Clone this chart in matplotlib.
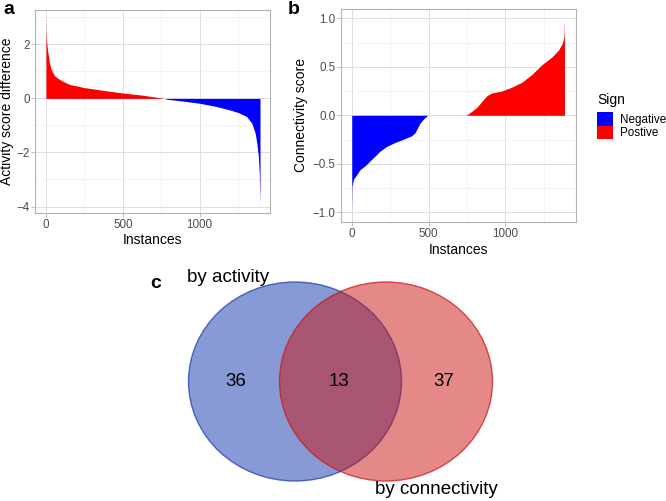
import matplotlib
matplotlib.use("Agg")
import matplotlib.pyplot as plt
from matplotlib.patches import Patch, Ellipse

plt.rcParams['font.family'] = ['Liberation Sans', 'DejaVu Sans']

# panel a: activity score difference, sorted (rank -> value)
a_pos_rank = [0, 1, 4, 11, 22, 33, 54, 76, 108, 152, 250, 369, 500, 629, 750, 770]
a_pos_val = [2.95, 2.5, 2.12, 1.76, 1.33, 1.09, 0.85, 0.75, 0.64, 0.52, 0.40, 0.30, 0.20, 0.12, 0.02, 0.0]
a_neg_rank = [770, 786, 894, 1000, 1111, 1198, 1250, 1306, 1339, 1361, 1372, 1382, 1388, 1393]
a_neg_val = [0.0, -0.03, -0.10, -0.18, -0.30, -0.43, -0.52, -0.67, -0.91, -1.27, -1.64, -2.12, -2.73, -3.88]

# panel b: connectivity score, sorted
b_neg_rank = [0, 2, 11, 33, 54, 87, 119, 152, 184, 228, 282, 347, 391, 412, 428, 445, 466, 494]
b_neg_val = [-1.0, -0.73, -0.66, -0.61, -0.56, -0.52, -0.47, -0.42, -0.37, -0.32, -0.28, -0.24,
             -0.21, -0.18, -0.13, -0.08, -0.04, 0.0]
b_pos_rank = [745, 781, 813, 846, 878, 911, 976, 1042, 1107, 1172, 1237, 1302, 1345, 1371, 1382, 1384, 1385]
b_pos_val = [0.0, 0.04, 0.08, 0.14, 0.20, 0.23, 0.25, 0.29, 0.34, 0.42, 0.52, 0.60, 0.67, 0.74, 0.81, 0.95, 0.95]

sign_labels = ["Negative", "Postive"]
sign_colors = ["#0000FF", "#FF0000"]

# panel c: venn counts
venn_counts = [36, 13, 37]
venn_names = ["by activity", "by connectivity"]

W, H = 666, 501
fig = plt.figure(figsize=(W / 100, H / 100), dpi=100)

def px_axes(left, top, right, bottom):
    return fig.add_axes([left / W, 1 - bottom / H, (right - left) / W, (bottom - top) / H])

def style(ax, xlim, ylim, yticks, yminor):
    ax.set_xlim(*xlim)
    ax.set_ylim(*ylim)
    ax.set_xticks([0, 500, 1000])
    ax.set_xticks([250, 750, 1250], minor=True)
    ax.set_yticks(yticks)
    ax.set_yticks(yminor, minor=True)
    ax.grid(True, which='major', color='#DEDEDE', lw=0.7)
    ax.grid(True, which='minor', color='#EBEBEB', lw=0.4)
    ax.set_axisbelow(True)
    for s in ax.spines.values():
        s.set_color('#B3B3B3')
        s.set_linewidth(0.8)
    ax.tick_params(which='major', length=2.75, width=0.6, color='#B3B3B3',
                   labelsize=8.4, labelcolor='#4D4D4D', pad=1.3)
    ax.tick_params(which='minor', length=0)

# a
ax_a = px_axes(35.2, 9.5, 270.3, 213)
ax_a.fill_between(a_pos_rank, a_pos_val, 0, color=sign_colors[1], lw=0)
ax_a.fill_between(a_neg_rank, a_neg_val, 0, color=sign_colors[0], lw=0)
style(ax_a, (-70, 1460), (-4.24, 3.29), [-4, -2, 0, 2], [-3, -1, 1, 3])
ax_a.set_yticklabels(['\u22124', '\u22122', '0', '2'])
ax_a.set_ylabel("Activity score difference", fontsize=10, va='center')
ax_a.yaxis.set_label_coords(-0.118, 0.5)
ax_a.set_xlabel("Instances", fontsize=10, va='center')
ax_a.xaxis.set_label_coords(0.5, -0.133)

# b
ax_b = px_axes(341, 8.6, 576, 222)
ax_b.fill_between(b_neg_rank, b_neg_val, 0, color=sign_colors[0], lw=0)
ax_b.fill_between(b_pos_rank, b_pos_val, 0, color=sign_colors[1], lw=0)
style(ax_b, (-70, 1460), (-1.1, 1.1), [-1, -0.5, 0, 0.5, 1], [-0.75, -0.25, 0.25, 0.75])
ax_b.set_yticklabels(['\u22121.0', '\u22120.5', '0.0', '0.5', '1.0'])
ax_b.set_ylabel("Connectivity score", fontsize=10, va='center')
ax_b.yaxis.set_label_coords(-0.171, 0.5)
ax_b.set_xlabel("Instances", fontsize=10, va='center')
ax_b.xaxis.set_label_coords(0.5, -0.131)

handles = [Patch(facecolor=c, edgecolor='none') for c in sign_colors]
leg = fig.legend(handles, sign_labels, title="Sign", loc='center left',
                 bbox_to_anchor=(597 / W, 1 - 116 / H), frameon=False,
                 fontsize=8.4, title_fontsize=10, handlelength=1.37, handleheight=1.4,
                 labelspacing=0, handletextpad=0.6, borderpad=0, borderaxespad=0,
                 alignment='left')
leg._legend_box.sep = 4

# c: venn diagram in pixel coordinates
ax_v = fig.add_axes([0, 0, 1, 1])
ax_v.set_xlim(0, W)
ax_v.set_ylim(H, 0)
ax_v.axis('off')
blue = (19 / 255, 55 / 255, 173 / 255)
red = (203 / 255, 19 / 255, 19 / 255)
ax_v.add_patch(Ellipse((295, 381.5), 213, 199, facecolor=blue + (0.5,), edgecolor=blue + (0.7,), lw=1))
ax_v.add_patch(Ellipse((386, 381.5), 213, 199, facecolor=red + (0.5,), edgecolor=red + (0.7,), lw=1))
for xc, n in zip([236, 339, 444], venn_counts):
    ax_v.text(xc, 381, str(n), fontsize=13.5, ha='center', va='center')
ax_v.text(187, 278, venn_names[0], fontsize=13.5, ha='left', va='center')
ax_v.text(375, 489, venn_names[1], fontsize=13.5, ha='left', va='center')

fig.text(3 / W, 1 - 9 / H, "a", fontsize=14, fontweight='bold', va='center', ha='left')
fig.text(288 / W, 1 - 9 / H, "b", fontsize=14, fontweight='bold', va='center', ha='left')
fig.text(150 / W, 1 - 283 / H, "c", fontsize=14, fontweight='bold', va='center', ha='left')

fig.savefig("out.png", dpi=100)
